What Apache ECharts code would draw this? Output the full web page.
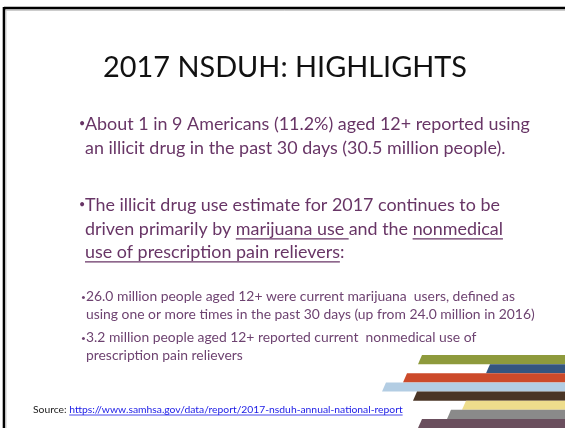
<!DOCTYPE html>
<html><head><meta charset="utf-8">
<script src="https://cdn.jsdelivr.net/npm/echarts@6/dist/echarts.min.js"></script>
<style>html,body{margin:0;padding:0;background:#fff}#c{width:565px;height:428px}</style>
</head><body><div id="c"></div>
<script>
// ---- content ----
const titleText = "2017 NSDUH: HIGHLIGHTS";
const bullet1Lines = [
  "About 1 in 9 Americans (11.2%) aged 12+ reported using",
  "an illicit drug in the past 30 days (30.5 million people)."
];
const bullet2Lines = [
  "The illicit drug use estimate for 2017 continues to be",
  "driven primarily by marijuana use and the nonmedical",
  "use of prescription pain relievers:"
];
// underlined spans: [lineIndex, substring]
const bullet2Underlines = [[1, "marijuana use "], [1, "nonmedical"], [2, "use of prescription pain relievers"]];
const sub1Lines = [
  "26.0 million people aged 12+ were current marijuana  users, defined as",
  "using one or more times in the past 30 days (up from 24.0 million in 2016)"
];
const sub2Lines = [
  "3.2 million people aged 12+ reported current  nonmedical use of",
  "prescription pain relievers"
];
const sourceLabel = "Source: ";
const sourceUrl = "https://www.samhsa.gov/data/report/2017-nsduh-annual-national-report";
// decorative stripes: row index and left start on 0..565 axis
const stripeRows = [0, 1, 2, 3, 4, 5, 6, 7];
const stripeStarts = [422, 490, 407, 386, 417, 466, 451, 422];
const stripeColors = ["#8e9a3c", "#34557f", "#cc4a2a", "#b3cde3", "#4a3526", "#eedd8c", "#8a8a8a", "#6b4f5e"];

// ---- layout helpers ----
const FAM = "Lato, 'Open Sans', sans-serif";
const ctx = document.createElement('canvas').getContext('2d');
function measure(t, size) { ctx.font = size + "px " + FAM; return ctx.measureText(t).width; }
function fit(lines, w) { const m = Math.max(...lines.map(l => measure(l, 100))); return 100 * w / m; }

const PURPLE = "#683566";
const PURPLE2 = "#6e4371";
const graphics = [];

// border
graphics.push({ type: 'line', shape: { x1: 4, y1: 8, x2: 565, y2: 8 }, style: { stroke: '#000', lineWidth: 2.6 } });
graphics.push({ type: 'line', shape: { x1: 4, y1: 10, x2: 565, y2: 10 }, style: { stroke: '#999', lineWidth: 1 } });
graphics.push({ type: 'line', shape: { x1: 4, y1: 7, x2: 4, y2: 428 }, style: { stroke: '#000', lineWidth: 2.6 } });
graphics.push({ type: 'line', shape: { x1: 6, y1: 10, x2: 6, y2: 428 }, style: { stroke: '#ccc', lineWidth: 1 } });

// title
const tSize = fit([titleText], 364);
graphics.push({ type: 'text', x: 285, y: 68, style: { text: titleText, fill: '#111', font: tSize + "px " + FAM, textAlign: 'center', textVerticalAlign: 'middle' } });

function block(lines, x0, bulletX, ys, size, color, unders) {
  graphics.push({ type: 'text', x: bulletX, y: ys[0], style: { text: "•", fill: color, font: (size * 0.6) + "px " + FAM, textAlign: 'left', textVerticalAlign: 'middle' } });
  lines.forEach((l, i) => {
    graphics.push({ type: 'text', x: x0, y: ys[i], style: { text: l, fill: color, font: size + "px " + FAM, textAlign: 'left', textVerticalAlign: 'middle' } });
  });
  (unders || []).forEach(([li, s]) => {
    const line = lines[li]; const idx = line.indexOf(s);
    const xa = x0 + measure(line.slice(0, idx), size);
    const xb = xa + measure(s, size);
    const yy = ys[li] + size * 0.55;
    graphics.push({ type: 'line', shape: { x1: xa, y1: yy, x2: xb, y2: yy }, style: { stroke: color, lineWidth: 1.4 } });
  });
}
const bSize = fit([bullet1Lines[0]], 530 - 85);
block(bullet1Lines, 85, 79, [124, 148], bSize, PURPLE);
block(bullet2Lines, 85, 79, [205, 229, 252], bSize, PURPLE, bullet2Underlines);
const sSize = fit([sub1Lines[1]], 535 - 86);
block(sub1Lines, 86, 81, [297, 315], sSize, PURPLE2);
block(sub2Lines, 86, 81, [338, 356], sSize, PURPLE2);

// source
const srcSize = fit([sourceLabel + sourceUrl], 403 - 33);
const lw = measure(sourceLabel, srcSize);
graphics.push({ type: 'text', x: 33, y: 410, style: { text: sourceLabel, fill: '#222', font: srcSize + "px " + FAM, textVerticalAlign: 'middle' } });
graphics.push({ type: 'text', x: 33 + lw, y: 410, style: { text: sourceUrl, fill: '#1a1ae6', font: srcSize + "px " + FAM, textVerticalAlign: 'middle' } });
const uw = measure(sourceUrl, srcSize);
graphics.push({ type: 'line', shape: { x1: 33 + lw, y1: 415, x2: 33 + lw + uw, y2: 415 }, style: { stroke: '#1a1ae6', lineWidth: 0.8 } });

const chart = echarts.init(document.getElementById('c'), null, { renderer: 'canvas' });
chart.setOption({
  animation: false,
  backgroundColor: '#fff',
  grid: { left: 0, right: 0, top: 355, height: 8 * 9.4, containLabel: false },
  xAxis: { type: 'value', min: 0, max: 565, show: false },
  yAxis: { type: 'category', data: stripeRows.map(String), inverse: true, show: false },
  series: [{
    type: 'custom',
    clip: false,
    data: stripeRows.map((r, i) => [r, stripeStarts[i]]),
    encode: { x: 1, y: 0 },
    renderItem: function (params, api) {
      const row = api.value(0), start = api.value(1);
      const p = api.coord([start, row]);
      const h = api.size([0, 1])[1];
      const y0 = p[1] - h / 2, y1 = p[1] + h / 2;
      const right = api.coord([565, row])[0] + 5;
      return { type: 'polygon', shape: { points: [[p[0], y0], [right, y0], [right, y1], [p[0] - 4, y1]] }, style: { fill: stripeColors[row], stroke: null } };
    }
  }],
  graphic: graphics
});
</script></body></html>
